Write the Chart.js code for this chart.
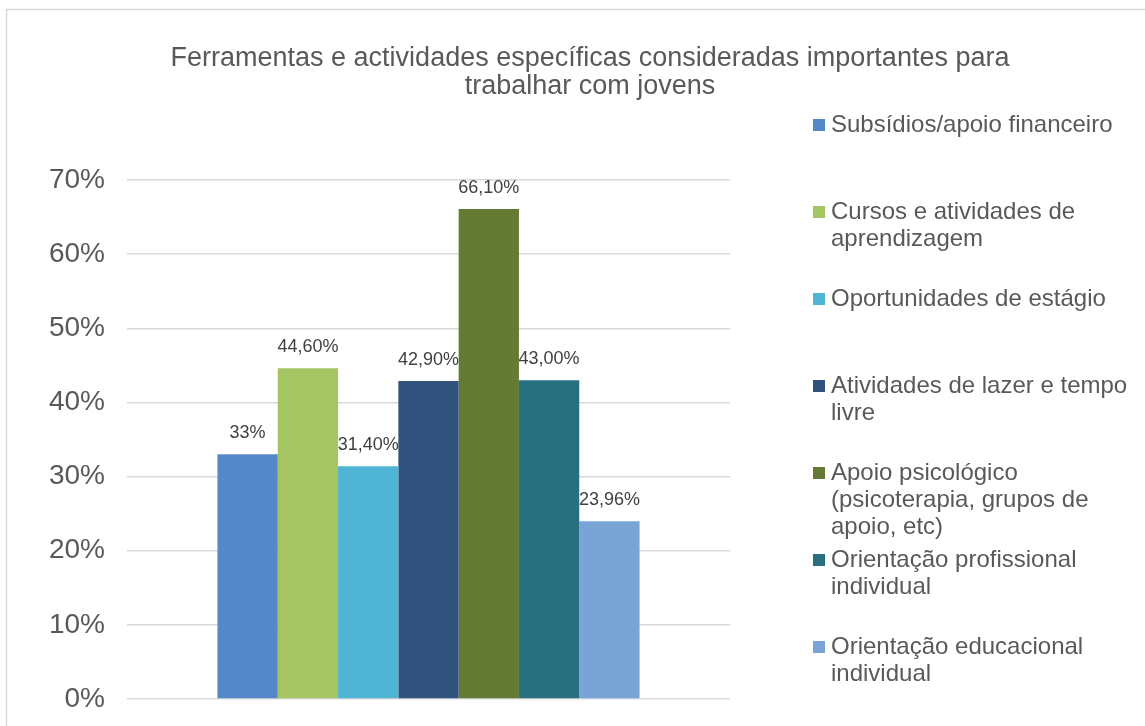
<!DOCTYPE html>
<html>
<head>
<meta charset="utf-8">
<title>Ferramentas e actividades</title>
<script src="https://cdn.jsdelivr.net/npm/chart.js@4.4.1/dist/chart.umd.min.js"></script>
<style>
    html, body { margin: 0; padding: 0; background: #fff; overflow: hidden; }
    canvas { display: block; }
</style>
</head>
<body>
<canvas id="toolsChart" width="1145" height="726"></canvas>
<script>
// dados do gráfico
const chartTitle = ["Ferramentas e actividades específicas consideradas importantes para", "trabalhar com jovens"];
const categories = [""];
const seriesNames = [
    "Subsídios/apoio financeiro",
    "Cursos e atividades de aprendizagem",
    "Oportunidades de estágio",
    "Atividades de lazer e tempo livre",
    "Apoio psicológico (psicoterapia, grupos de apoio, etc)",
    "Orientação profissional individual",
    "Orientação educacional individual"
];
const seriesValues = [33, 44.6, 31.4, 42.9, 66.1, 43.0, 23.96];
const valueDecimals = [0, 2, 2, 2, 2, 2, 2];
const seriesColors = ["#5588c8", "#a5c462", "#50b4d4", "#30527c", "#657b35", "#287080", "#7aa4d5"];
const yTickValues = [0, 10, 20, 30, 40, 50, 60, 70];

const FONT = "'Liberation Sans', Arial, sans-serif";
const TEXT_GREY = "#595959";

function formatPct(v, d) {
    return v.toFixed(d).replace(".", ",") + "%";
}

// moldura, título, rótulos de valores e legenda
const decorPlugin = {
    id: "decor",
    beforeDraw(chart) {
        const ctx = chart.ctx;
        ctx.save();
        ctx.strokeStyle = "#d9d9d9";
        ctx.lineWidth = 1.5;
        ctx.strokeRect(6.5, 9.5, 1300, 900);
        ctx.restore();
    },
    afterDatasetsDraw(chart) {
        const ctx = chart.ctx;
        ctx.save();
        ctx.font = "18px " + FONT;
        ctx.fillStyle = "#404040";
        ctx.textAlign = "center";
        ctx.textBaseline = "middle";
        chart.data.datasets.forEach((ds, i) => {
            const bar = chart.getDatasetMeta(i).data[0];
            ctx.fillText(formatPct(ds.data[0], valueDecimals[i]), bar.x, bar.y - 21);
        });
        ctx.restore();
    },
    afterDraw(chart) {
        const ctx = chart.ctx;
        ctx.save();
        // título
        ctx.font = "27px " + FONT;
        ctx.fillStyle = TEXT_GREY;
        ctx.textAlign = "center";
        ctx.textBaseline = "middle";
        chartTitle.forEach((line, i) => ctx.fillText(line, 590, 59 + i * 28));

        // legenda à direita
        ctx.font = "24px " + FONT;
        ctx.textAlign = "left";
        const maxW = 300;
        chart.data.datasets.forEach((ds, i) => {
            const y0 = 125 + i * 87;
            ctx.fillStyle = ds.backgroundColor;
            ctx.fillRect(813, y0 - 6, 12, 12);
            const words = ds.label.split(" ");
            const lines = [];
            let cur = "";
            words.forEach(w => {
                const test = cur ? cur + " " + w : w;
                if (ctx.measureText(test).width > maxW && cur) {
                    lines.push(cur);
                    cur = w;
                } else {
                    cur = test;
                }
            });
            lines.push(cur);
            ctx.fillStyle = TEXT_GREY;
            lines.forEach((l, j) => ctx.fillText(l, 831, y0 + j * 27));
        });
        ctx.restore();
    }
};

const ctx = document.getElementById("toolsChart").getContext("2d");
new Chart(ctx, {
    type: "bar",
    data: {
        labels: categories,
        datasets: seriesNames.map((name, i) => ({
            label: name,
            data: [seriesValues[i]],
            backgroundColor: seriesColors[i],
            borderWidth: 0,
            categoryPercentage: 0.7,
            barPercentage: 1.0
        }))
    },
    options: {
        responsive: false,
        animation: false,
        devicePixelRatio: 1,
        layout: { padding: { top: 180, bottom: 27, left: 0, right: 415 } },
        plugins: {
            legend: { display: false },
            title: { display: false },
            tooltip: { enabled: false }
        },
        scales: {
            x: {
                display: false
            },
            y: {
                min: 0,
                max: 70,
                afterBuildTicks: (scale) => {
                    scale.ticks = yTickValues.map(v => ({ value: v }));
                },
                afterFit: (scale) => { scale.width = 127; },
                border: { display: false },
                // marcas invisíveis só para afastar os rótulos da área do gráfico
                grid: { color: "#d9d9d9", lineWidth: 1.5, drawTicks: true, tickLength: 22, tickColor: "rgba(0,0,0,0)" },
                ticks: {
                    padding: 0,
                    color: TEXT_GREY,
                    font: { family: FONT, size: 28 },
                    callback: v => v + "%"
                }
            }
        }
    },
    plugins: [decorPlugin]
});
</script>
</body>
</html>
